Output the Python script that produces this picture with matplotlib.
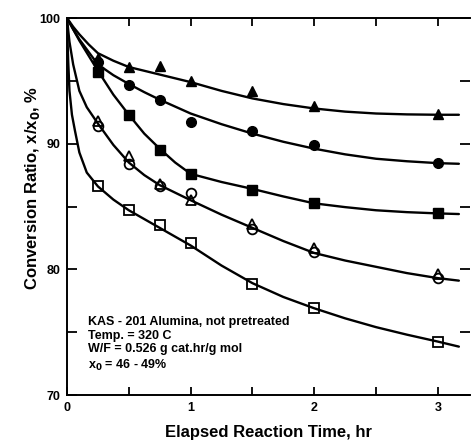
import numpy as np
import matplotlib
matplotlib.use("Agg")
import matplotlib.pyplot as plt
from matplotlib.ticker import MultipleLocator

plt.rcParams['font.family'] = ['Liberation Sans', 'DejaVu Sans']
plt.rcParams['font.weight'] = 'bold'

# measured points (hr, %)
t = [0.25, 0.5, 0.75, 1.0, 1.5, 2.0, 3.0]
tri_filled = [96.8, 96.1, 96.2, 95.0, 94.2, 93.0, 92.4]
circ_filled = [96.5, 94.7, 93.5, 91.7, 91.0, 89.9, 88.5]
sq_filled = [95.7, 92.3, 89.5, 87.6, 86.3, 85.3, 84.5]
tri_open = [91.8, 89.0, 86.8, 85.5, 83.6, 81.7, 79.6]
circ_open = [91.4, 88.4, 86.6, 86.1, 83.2, 81.4, 79.3]
sq_open = [86.6, 84.7, 83.5, 82.1, 78.8, 76.9, 74.25]

# fitted curves
t1 = [0, 0.05, 0.1, 0.175, 0.25, 0.375, 0.5, 0.625, 0.75, 0.875, 1.0, 1.25, 1.5,
      1.75, 2.0, 2.25, 2.5, 2.75, 3.0, 3.17]
fit1 = [100, 99.3, 98.7, 97.9, 97.2, 96.6, 96.1, 95.8, 95.5, 95.2, 94.9, 94.2, 93.6,
        93.15, 92.8, 92.55, 92.4, 92.33, 92.3, 92.3]
fit2 = [100, 99.1, 98.3, 97.3, 96.3, 95.45, 94.75, 94.1, 93.5, 92.95, 92.4, 91.55, 90.8,
        90.15, 89.6, 89.15, 88.8, 88.6, 88.45, 88.4]
fit3 = [100, 99.1, 98.2, 97.0, 95.8, 93.9, 92.3, 90.8, 89.6, 88.5, 87.6, 86.95, 86.4,
        85.8, 85.25, 84.95, 84.7, 84.55, 84.45, 84.4]
t4 = [0, 0.01, 0.02, 0.05, 0.1, 0.16, 0.25, 0.375, 0.5, 0.625, 0.75, 0.875, 1.0, 1.25,
      1.5, 1.75, 2.0, 2.25, 2.5, 2.75, 3.0, 3.17]
fit4 = [100, 99.0, 98.1, 96.3, 94.2, 92.9, 91.6, 89.9, 88.5, 87.5, 86.7, 86.1, 85.5, 84.35,
        83.3, 82.25, 81.3, 80.7, 80.2, 79.7, 79.3, 79.1]
t5 = [0, 0.005, 0.01, 0.02, 0.04, 0.065, 0.1, 0.16, 0.25, 0.375, 0.5, 0.625, 0.75, 0.875,
      1.0, 1.25, 1.5, 1.75, 2.0, 2.25, 2.5, 2.75, 3.0, 3.17]
fit5 = [100, 98.0, 96.5, 94.2, 92.3, 91.0, 89.3, 87.7, 86.6, 85.55, 84.7, 84.0, 83.3, 82.6,
        81.9, 80.3, 78.9, 77.8, 76.9, 76.1, 75.4, 74.8, 74.25, 73.85]

fig = plt.figure(figsize=(4.71, 4.42), dpi=100)
ax = fig.add_axes([67 / 471, 47 / 442, 403 / 471, 377 / 442])

for tt, ff in [(t1, fit1), (t1, fit2), (t1, fit3), (t4, fit4), (t5, fit5)]:
    ax.plot(tt, ff, color='black', lw=1.7, solid_capstyle='round', solid_joinstyle='round')

ms = 7
ax.plot(t, tri_filled, '^', color='black', ms=ms)
ax.plot(t, circ_filled, 'o', color='black', ms=ms)
ax.plot(t, sq_filled, 's', color='black', ms=ms)
ax.plot(t, circ_open, 'o', mfc='none', mec='black', mew=1.3, ms=ms)
ax.plot(t, tri_open, '^', mfc='none', mec='black', mew=1.3, ms=ms)
ax.plot(t, sq_open, 's', mfc='none', mec='black', mew=1.3, ms=ms)

ax.set_xlim(0, 3.26)
ax.set_ylim(70, 100)
ax.set_xticks([0, 1, 2, 3])
ax.xaxis.set_minor_locator(MultipleLocator(0.5))
ax.set_yticks([70, 80, 90, 100])
ax.yaxis.set_minor_locator(MultipleLocator(5))
ax.tick_params(which='both', direction='in', top=True, right=True,
               width=1.3, labelsize=9, pad=5, length=7)
ax.tick_params(axis='x', which='both', length=6)
for lab in ax.get_xticklabels() + ax.get_yticklabels():
    lab.set_fontweight('bold')
for s in ax.spines.values():
    s.set_linewidth(1.4)
ax.spines['right'].set_visible(False)

ax.set_xlabel('Elapsed Reaction Time, hr', fontsize=12, fontweight='bold', labelpad=8)
ax.set_ylabel('Conversion Ratio, x/x$_\\mathbf{0}$, %', fontsize=12, fontweight='bold')
ax.yaxis.set_label_coords(-0.062, 0.55)

note = ("KAS - 201 Alumina, not pretreated\n"
        "Temp. = 320 C\n"
        "W/F = 0.526 g cat.hr/g mol\n"
        "x$_\\mathbf{0}$ = 46 - 49%")
ax.text(0.17, 76.3, note, fontsize=9, fontweight='bold', va='top', ha='left', linespacing=1.2)

fig.savefig('out.png', dpi=100)
